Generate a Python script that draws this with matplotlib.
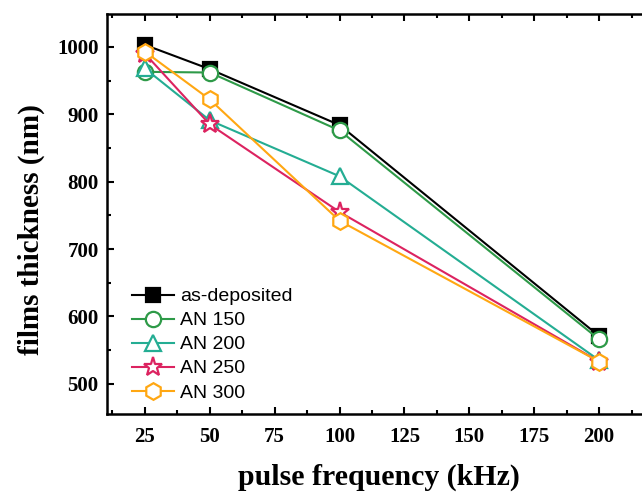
import matplotlib
matplotlib.use("Agg")
import matplotlib.pyplot as plt
from matplotlib.ticker import MultipleLocator

freq = [25, 50, 100, 200]
as_deposited = [1003, 967, 884, 571]
an150 = [963, 962, 876, 566]
an200 = [968, 891, 808, 535]
an250 = [990, 885, 755, 533]
an300 = [993, 922, 742, 533]

series = [
    ("as-deposited", as_deposited, "black", "s", True),
    ("AN 150", an150, "#2e9a48", "o", False),
    ("AN 200", an200, "#24ad93", "^", False),
    ("AN 250", an250, "#dc2360", "*", False),
    ("AN 300", an300, "#ffa712", "h", False),
]

fig = plt.figure(figsize=(6.42, 4.96), dpi=100)
ax = fig.add_axes([0.1667, 0.165, 0.8473, 0.807])

sizes = {"s": 10, "o": 11, "^": 12, "*": 14, "h": 12}
for name, vals, col, mk, filled in series:
    ax.plot(freq, vals, color=col, marker=mk, lw=1.5, ms=sizes[mk],
            mfc=col if filled else "white", mec=col, mew=1.6, label=name)

ax.set_xlim(10.4, 220)
ax.set_ylim(455, 1049)
ax.xaxis.set_major_locator(MultipleLocator(25))
ax.xaxis.set_minor_locator(MultipleLocator(12.5))
ax.yaxis.set_major_locator(MultipleLocator(100))
ax.yaxis.set_minor_locator(MultipleLocator(50))
ax.tick_params(which="both", direction="in", top=True, right=True, width=1.5)
ax.tick_params(which="major", length=5)
ax.tick_params(which="minor", length=3)
for sp in ax.spines.values():
    sp.set_linewidth(1.8)

for lab in ax.get_xticklabels() + ax.get_yticklabels():
    lab.set_family("Liberation Serif")
    lab.set_fontweight("bold")
    lab.set_fontsize(15)
ax.tick_params(axis="x", pad=9)
ax.tick_params(axis="y", pad=6)

ax.set_xlabel("pulse frequency (kHz)", family="Liberation Serif", fontweight="bold",
              fontsize=21.5, labelpad=12)
ax.set_ylabel("films thickness (nm)", family="Liberation Serif", fontweight="bold",
              fontsize=21)
ax.yaxis.set_label_coords(-0.114, 0.46)

ax.legend(loc="lower left", bbox_to_anchor=(0.022, 0.0), frameon=False,
          prop={"family": "Liberation Sans", "size": 14}, handlelength=2.2,
          labelspacing=0.33, handletextpad=0.3, borderaxespad=0.25)

fig.savefig("out.png", dpi=100)
